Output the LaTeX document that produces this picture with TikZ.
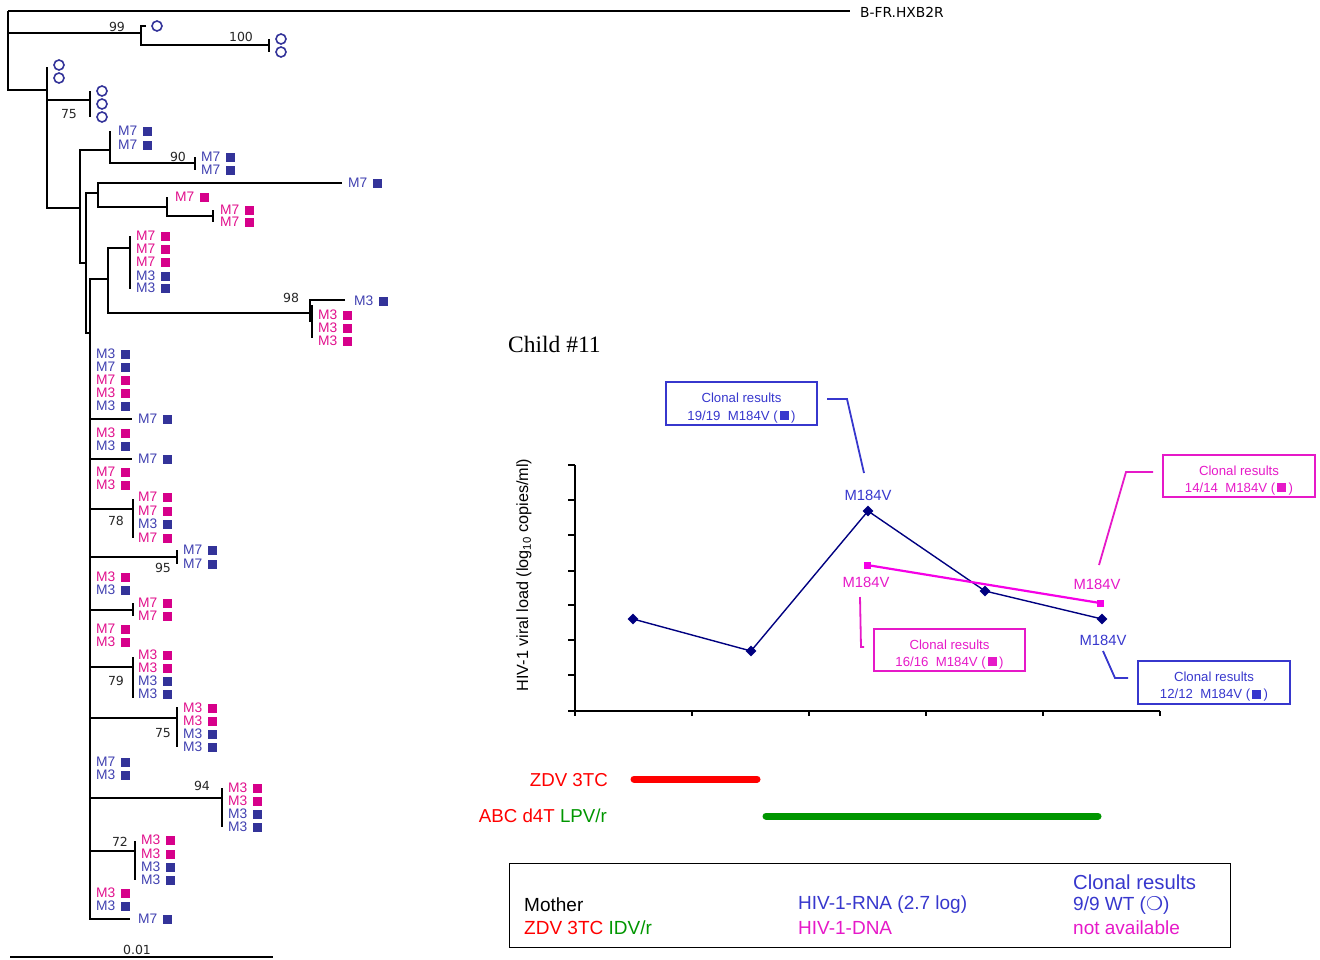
\documentclass[tikz,border=0pt]{standalone}
\usepackage{fontspec}
\setmainfont{Liberation Sans}
\newfontfamily\serifface{Liberation Serif}
\newfontfamily\dvs{DejaVu Sans}
\usetikzlibrary{shapes.geometric}
\definecolor{tb}{RGB}{64,64,176}
\definecolor{sb}{RGB}{51,51,153}
\definecolor{tp}{RGB}{225,16,140}
\definecolor{sp}{RGB}{214,0,138}
\definecolor{cb}{RGB}{55,55,205}
\definecolor{cp}{RGB}{230,25,200}
\definecolor{navyc}{RGB}{0,0,128}
\definecolor{magc}{RGB}{245,0,230}
\definecolor{redc}{RGB}{255,0,0}
\definecolor{grc}{RGB}{0,150,0}
\newcounter{lf}
\newcommand\Lf[4]{\stepcounter{lf}%
  \node[leaf,text=t#4] (lf\arabic{lf}) at (#1,#2) {#3};%
  \node[sq,fill=s#4] (sq\arabic{lf}) at (#1+29,#2) {};}
\newcounter{cc}
\newcommand\Ci[2]{\stepcounter{cc}\node[circ] (ci\arabic{cc}) at (#1,#2) {};}
\newcommand\bsq[1]{\,\textcolor{#1}{\rule{9pt}{9pt}}\,}
\begin{document}
\begin{tikzpicture}[x=1pt,y=-1pt,
  br/.style={line width=1.8pt},
  leaf/.style={anchor=west,inner sep=0pt,font=\fontsize{13.8}{14}\selectfont},
  sq/.style={rectangle,minimum size=9pt,inner sep=0pt},
  circ/.style={circle,draw=sb,line width=1.6pt,minimum size=10pt,inner sep=0pt},
  bs/.style={inner sep=0pt,font=\dvs\fontsize{12.5}{13}\selectfont,text=black!85},
  axisl/.style={line width=1.2pt,black},
  dia/.style={diamond,fill=navyc,minimum size=11pt,inner sep=0pt},
  psq/.style={rectangle,fill=magc,minimum size=7pt,inner sep=0pt},
  mlab/.style={inner sep=0pt,font=\fontsize{14.8}{15}\selectfont},
  cbox/.style={draw,line width=1.8pt,inner sep=0pt},
  ctext/.style={inner sep=0pt,font=\fontsize{13.2}{14}\selectfont},
  conn/.style={line width=1.8pt},
  legt/.style={anchor=west,inner sep=0pt,font=\fontsize{19}{20}\selectfont},
  bar/.style={line width=7pt,line cap=round}]
\useasboundingbox (0,0) rectangle (1320,959);

% ---------------- tree ----------------
\draw[br] (8,11) -- (850,11);
\node[anchor=west,inner sep=0pt,font=\dvs\fontsize{13.8}{14}\selectfont] (ref) at (860,12) {B-FR.HXB2R};
\draw[br] (8,11) -- (8,90) -- (47,90);
\draw[br] (8,33) -- (141,33);
\draw[br] (146,26) -- (141,26) -- (141,45) -- (269,45);
\draw[br] (269,39) -- (269,52);
\draw[br] (47,67) -- (47,208) -- (80,208);
\draw[br] (47,100) -- (90,100);
\draw[br] (90,91) -- (90,117);
\draw[br] (110,150) -- (80,150) -- (80,263) -- (86,263);
\draw[br] (110,131) -- (110,163) -- (195,163);
\draw[br] (195,157) -- (195,170);
\draw[br] (98,193) -- (86,193) -- (86,333) -- (90,333);
\draw[br] (342,183) -- (98,183) -- (98,207) -- (167,207);
\draw[br] (167,197) -- (167,216) -- (213,216);
\draw[br] (213,210) -- (213,222);
\draw[br] (108,279) -- (90,279) -- (90,919) -- (130,919);
\draw[br] (130,248) -- (108,248) -- (108,313) -- (310,313);
\draw[br] (130,236) -- (130,289);
\draw[line width=1.2pt] (345,300) -- (310,300) -- (310,322);
\draw[br] (312,305) -- (312,338);
\draw[br] (90,419) -- (132,419);
\draw[br] (90,459) -- (132,459);
\draw[br] (90,509) -- (133,509); \draw[br] (133,499) -- (133,538);
\draw[br] (90,557) -- (177,557); \draw[br] (177,550) -- (177,564);
\draw[br] (90,610) -- (133,610); \draw[br] (133,603) -- (133,616);
\draw[br] (90,667) -- (133,667); \draw[br] (133,657) -- (133,698);
\draw[br] (90,718) -- (177,718); \draw[br] (177,707) -- (177,747);
\draw[br] (90,798) -- (222,798); \draw[br] (222,788) -- (222,827);
\draw[br] (90,851) -- (135,851); \draw[br] (135,841) -- (135,880);
\draw[br] (10,957) -- (273,957);
\node[bs] (scale) at (137,950) {0.01};

% bootstrap values
\node[bs] (b1) at (117,27) {99};
\node[bs] (b2) at (241,37) {100};
\node[bs] (b3) at (69,114) {75};
\node[bs] (b4) at (178,157) {90};
\node[bs] (b5) at (291,298) {98};
\node[bs] (b6) at (116,521) {78};
\node[bs] (b7) at (163,568) {95};
\node[bs] (b8) at (116,681) {79};
\node[bs] (b9) at (163,733) {75};
\node[bs] (b10) at (202,786) {94};
\node[bs] (b11) at (120,842) {72};

% circles (mother)
\Ci{157}{26}\Ci{281}{39}\Ci{281}{52}\Ci{59}{65}\Ci{59}{78}
\Ci{102}{91}\Ci{102}{104}\Ci{102}{117}

% leaves
\Lf{118}{131}{M7}{b}\Lf{118}{145}{M7}{b}
\Lf{201}{157}{M7}{b}\Lf{201}{170}{M7}{b}
\Lf{348}{183}{M7}{b}
\Lf{175}{197}{M7}{p}
\Lf{220}{210}{M7}{p}\Lf{220}{222}{M7}{p}
\Lf{136}{236}{M7}{p}\Lf{136}{249}{M7}{p}\Lf{136}{262}{M7}{p}\Lf{136}{276}{M3}{b}\Lf{136}{288}{M3}{b}
\Lf{354}{301}{M3}{b}
\Lf{318}{315}{M3}{p}\Lf{318}{328}{M3}{p}\Lf{318}{341}{M3}{p}
\Lf{96}{354}{M3}{b}\Lf{96}{367}{M7}{b}\Lf{96}{380}{M7}{p}\Lf{96}{393}{M3}{p}\Lf{96}{406}{M3}{b}
\Lf{138}{419}{M7}{b}
\Lf{96}{433}{M3}{p}\Lf{96}{446}{M3}{b}
\Lf{138}{459}{M7}{b}
\Lf{96}{472}{M7}{p}\Lf{96}{485}{M3}{p}
\Lf{138}{497}{M7}{p}\Lf{138}{511}{M7}{p}\Lf{138}{524}{M3}{b}\Lf{138}{538}{M7}{p}
\Lf{183}{550}{M7}{b}\Lf{183}{564}{M7}{b}
\Lf{96}{577}{M3}{p}\Lf{96}{590}{M3}{b}
\Lf{138}{603}{M7}{p}\Lf{138}{616}{M7}{p}
\Lf{96}{629}{M7}{p}\Lf{96}{642}{M3}{p}
\Lf{138}{655}{M3}{p}\Lf{138}{668}{M3}{p}\Lf{138}{681}{M3}{b}\Lf{138}{694}{M3}{b}
\Lf{183}{708}{M3}{p}\Lf{183}{721}{M3}{p}\Lf{183}{734}{M3}{b}\Lf{183}{747}{M3}{b}
\Lf{96}{762}{M7}{b}\Lf{96}{775}{M3}{b}
\Lf{228}{788}{M3}{p}\Lf{228}{801}{M3}{p}\Lf{228}{814}{M3}{b}\Lf{228}{827}{M3}{b}
\Lf{141}{840}{M3}{p}\Lf{141}{854}{M3}{p}\Lf{141}{867}{M3}{b}\Lf{141}{880}{M3}{b}
\Lf{96}{893}{M3}{p}\Lf{96}{906}{M3}{b}
\Lf{138}{919}{M7}{b}

% ---------------- chart ----------------
\node[anchor=west,inner sep=0pt,font=\serifface\fontsize{23.5}{24}\selectfont] (title) at (508,344) {Child \#11};
\draw[axisl] (575,465) -- (575,711) -- (1160,711);
\foreach \yy in {465,500,535,571,605,640,675,711} \draw[axisl] (568,\yy) -- (575,\yy);
\foreach \xx in {575,692,809,926,1043,1160} \draw[axisl] (\xx,711) -- (\xx,716);
\node[rotate=90,inner sep=0pt,font=\fontsize{16.2}{17}\selectfont] (ylab) at (524,575) {HIV-1 viral load (log\textsubscript{10} copies/ml)};

\node[dia] (d1) at (633,619) {};
\node[dia] (d2) at (751,651) {};
\node[dia] (d3) at (868,511) {};
\node[dia] (d4) at (985,591) {};
\node[dia] (d5) at (1102,619) {};
\draw[navyc,line width=1.4pt] (d1.center) -- (d2.center) -- (d3.center) -- (d4.center) -- (d5.center);
\node[psq] (p1) at (867,565) {};
\node[psq] (p2) at (1100,603) {};
\draw[magc,line width=2.2pt] (p1.center) -- (p2.center);

\node[mlab,text=cb] (m1) at (868,495) {M184V};
\node[mlab,text=cp] (m2) at (866,582) {M184V};
\node[mlab,text=cp] (m3) at (1097,584) {M184V};
\node[mlab,text=cb] (m4) at (1103,640) {M184V};

% callouts
\node[cbox,draw=cb,minimum width=151pt,minimum height=43pt] (c1) at (741.5,403.5) {};
\node[ctext,text=cb] (c1a) at ([yshift=5.5pt]c1.center) {Clonal results};
\node[ctext,text=cb] (c1b) at ([yshift=-13.5pt]c1.center) {19/19\ \ M184V (\bsq{cb})};
\coordinate (k1a) at (827,399); \coordinate (k1b) at (864,473);
\draw[conn,cb] (k1a) -- (847,399) -- (k1b);

\node[cbox,draw=cp,minimum width=152pt,minimum height=42pt] (c2) at (1239,476) {};
\node[ctext,text=cp] (c2a) at ([yshift=5pt]c2.center) {Clonal results};
\node[ctext,text=cp] (c2b) at ([yshift=-13pt]c2.center) {14/14\ \ M184V (\bsq{cp})};
\coordinate (k2a) at (1153,472); \coordinate (k2b) at (1099,565);
\draw[conn,cp] (k2a) -- (1126,472) -- (k2b);

\node[cbox,draw=cp,minimum width=151pt,minimum height=42pt] (c3) at (949.5,650) {};
\node[ctext,text=cp] (c3a) at ([yshift=5.5pt]c3.center) {Clonal results};
\node[ctext,text=cp] (c3b) at ([yshift=-13pt]c3.center) {16/16\ \ M184V (\bsq{cp})};
\coordinate (k3a) at (860,597); \coordinate (k3b) at (864,647);
\draw[conn,cp] (k3a) -- (861,647) -- (k3b);

\node[cbox,draw=cb,minimum width=152pt,minimum height=43pt] (c4) at (1214,682.5) {};
\node[ctext,text=cb] (c4a) at ([yshift=5.5pt]c4.center) {Clonal results};
\node[ctext,text=cb] (c4b) at ([yshift=-13pt]c4.center) {12/12\ \ M184V (\bsq{cb})};
\coordinate (k4a) at (1103,651); \coordinate (k4b) at (1128,678);
\draw[conn,cb] (k4a) -- (1115,678) -- (k4b);

% therapy bars
\node[anchor=east,inner sep=0pt,font=\fontsize{18.7}{19}\selectfont,text=redc] (t1) at (608,780) {ZDV 3TC};
\node[anchor=east,inner sep=0pt,font=\fontsize{18.7}{19}\selectfont] (t2) at (607,816) {\textcolor{redc}{ABC d4T} \textcolor{grc}{LPV/r}};
\coordinate (r1) at (634,779); \coordinate (r2) at (757,779);
\draw[bar,redc] (r1) -- (r2);
\coordinate (g1) at (766,816); \coordinate (g2) at (1098,816);
\draw[bar,grc] (g1) -- (g2);

% legend
\node[draw,line width=1pt,minimum width=721pt,minimum height=84pt,inner sep=0pt] (leg) at (869.5,905) {};
\node[legt] (l1) at (524,905) {Mother};
\node[legt] (l2) at (524,928) {\textcolor{redc}{ZDV 3TC} \textcolor{grc}{IDV/r}};
\node[legt,text=cb] (l3) at (798,905) {HIV-1-RNA (2.7 log)};
\node[legt,text=cp] (l4) at (798,928) {HIV-1-DNA};
\node[legt,text=cb,font=\fontsize{20.3}{21}\selectfont] (l5) at (1073,882) {Clonal results};
\node[legt,text=cb] (l6) at (1073,905) {9/9 WT ({\dvs ❍})};
\node[legt,text=cp] (l7) at (1073,928) {not available};
\end{tikzpicture}
\end{document}
